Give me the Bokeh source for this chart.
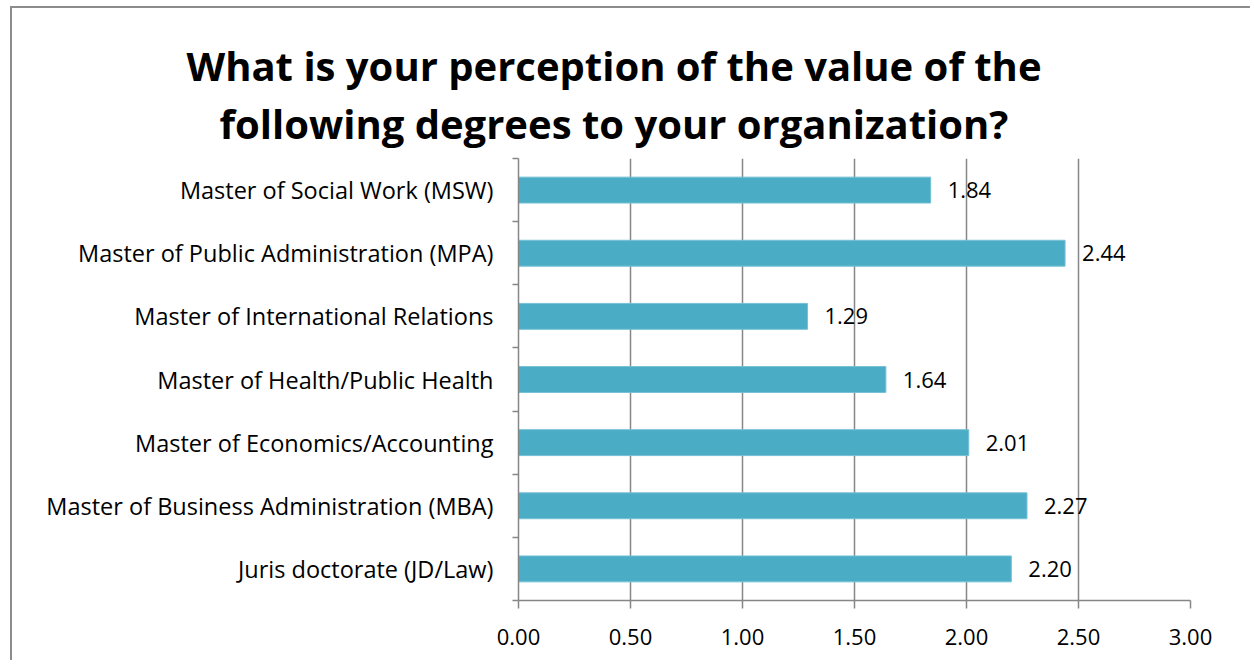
from bokeh.plotting import figure
from bokeh.models import (Range1d, FixedTicker, LabelSet, ColumnDataSource,
                          NumeralTickFormatter, Title)
from bokeh.core.properties import value
from bokeh.embed import file_html
from bokeh.resources import INLINE

categories = [
    "Master of Social Work (MSW)",
    "Master of Public Administration (MPA)",
    "Master of International Relations",
    "Master of Health/Public Health",
    "Master of Economics/Accounting",
    "Master of Business Administration (MBA)",
    "Juris doctorate (JD/Law)",
]
values = [1.84, 2.44, 1.29, 1.64, 2.01, 2.27, 2.20]
x_ticks = [0.0, 0.5, 1.0, 1.5, 2.0, 2.5, 3.0]
title_lines = ["What is your perception of the value of the",
               "following degrees to your organization?"]

FONT = "Open Sans"
GREY = "#868686"
BAR = "#4BACC6"

n = len(categories)
ypos = [n - i - 0.5 for i in range(n)]
bounds = [float(i) for i in range(n + 1)]

p = figure(width=1240, height=654, x_range=Range1d(0, 3), y_range=Range1d(0, n),
           output_backend="svg", toolbar_location=None,
           min_border_left=506, min_border_right=62, min_border_top=150,
           min_border_bottom=62)
p.styles = {"border-top": "2px solid #8c8c8c", "border-left": "2px solid #8c8c8c",
            "margin-left": "10px", "margin-top": "6px"}
p.outline_line_color = None
p.background_fill_color = "white"
p.border_fill_color = "white"

src = ColumnDataSource(dict(y=ypos, v=values, lab=[f"{v:.2f}" for v in values]))
p.hbar(y="y", left=0, right="v", height=0.41, source=src,
       fill_color=BAR, line_color="#74c0d5", line_width=1)

p.add_layout(LabelSet(x="v", y="y", text="lab", source=src, x_offset=17,
                      text_baseline="middle", text_align="left",
                      text_font=value(FONT), text_font_size=value("22px"),
                      text_color="black"))

# axes
xa = p.xaxis[0]
xa.ticker = FixedTicker(ticks=x_ticks)
xa.formatter = NumeralTickFormatter(format="0.00")
xa.major_tick_out = 8
xa.major_tick_in = 0
xa.minor_tick_line_color = None
xa.axis_line_color = GREY
xa.axis_line_width = 1.5
xa.major_tick_line_color = GREY
xa.major_tick_line_width = 1.5
xa.major_label_standoff = 20
xa.major_label_text_font = FONT
xa.major_label_text_font_size = "22px"
xa.major_label_text_color = "black"

ya = p.yaxis[0]
ya.ticker = FixedTicker(ticks=ypos, minor_ticks=bounds)
ya.major_label_overrides = {y: c for y, c in zip(ypos, categories)}
ya.major_tick_line_color = None
ya.major_tick_out = 0
ya.major_tick_in = 0
ya.minor_tick_out = 6
ya.minor_tick_in = 0
ya.minor_tick_line_color = GREY
ya.minor_tick_line_width = 1.5
ya.axis_line_color = GREY
ya.axis_line_width = 1.5
ya.major_label_standoff = 19
ya.major_label_text_font = FONT
ya.major_label_text_font_size = "23.5px"
ya.major_label_text_color = "black"

p.xgrid.ticker = FixedTicker(ticks=x_ticks)
p.xgrid.grid_line_color = GREY
p.xgrid.grid_line_width = 1.5
p.ygrid.visible = False

# title: two lines, the second is nearest the plot area
offsets = [-332, -299]
standoffs = [-14, 16]
for line, off, so in reversed(list(zip(title_lines, offsets, standoffs))):
    p.add_layout(Title(text=line, align="left", offset=off,
                       text_font=FONT, text_font_style="bold", text_font_size="40px",
                       text_color="black", standoff=so), "above")

open("out.html", "w").write(file_html(p, INLINE))
